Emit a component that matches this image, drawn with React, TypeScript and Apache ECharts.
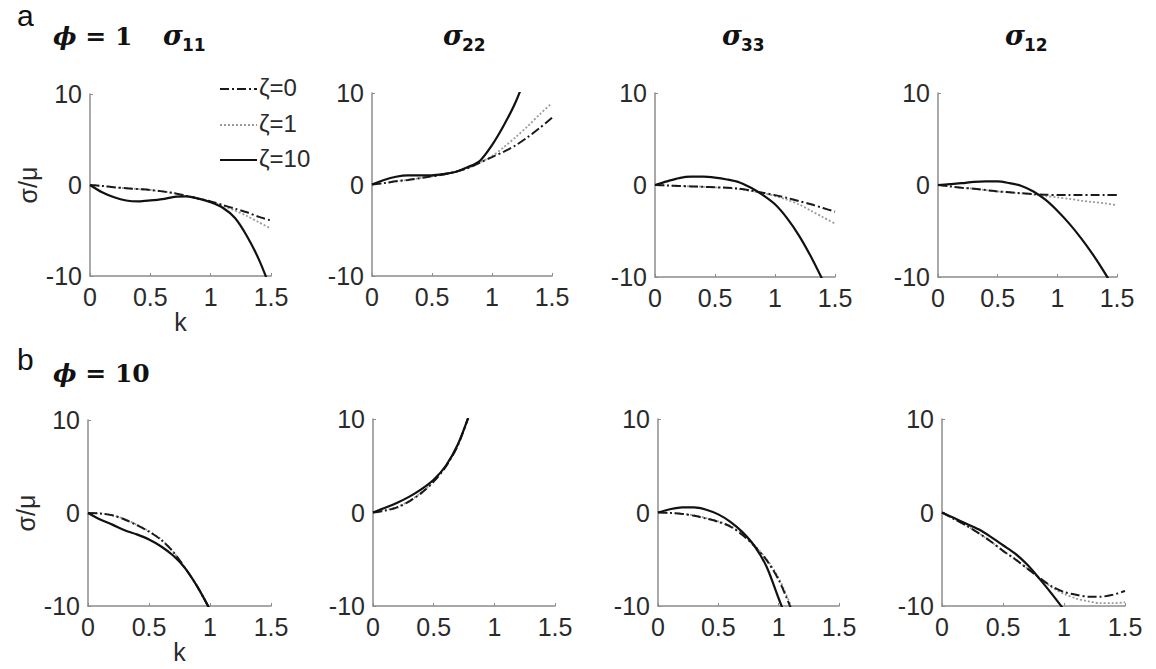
import React, { useEffect, useRef } from "react";
import * as echarts from "echarts";

// ---- data ----
const K = [0, 0.1, 0.2, 0.3, 0.4, 0.5, 0.6, 0.7, 0.8, 0.9, 1.0, 1.1, 1.2, 1.3, 1.4, 1.5];
const X_TICKS = [0, 0.5, 1, 1.5];
const Y_TICKS = [-10, 0, 10];
const SERIES_NAMES = ["ζ=0", "ζ=1", "ζ=10"];
const COMPONENTS = ["11", "22", "33", "12"];
const PHI_VALUES = ["1", "10"];
const ROW_LETTERS = ["a", "b"];

// phi = 1
const S11_PHI1_Z0 = [0, -0.1, -0.25, -0.35, -0.45, -0.55, -0.7, -0.9, -1.2, -1.5, -1.8, -2.2, -2.6, -3.0, -3.5, -3.9];
const S11_PHI1_Z1 = [0, -0.1, -0.25, -0.35, -0.45, -0.55, -0.7, -0.9, -1.2, -1.5, -1.85, -2.3, -2.8, -3.4, -4.1, -4.8];
const S11_PHI1_Z10 = [0, -0.8, -1.35, -1.7, -1.8, -1.7, -1.55, -1.3, -1.25, -1.5, -1.9, -2.5, -3.6, -5.6, -8.2, -11.5];

const S22_PHI1_Z0 = [0, 0.15, 0.35, 0.5, 0.7, 0.9, 1.1, 1.4, 1.8, 2.4, 3.0, 3.6, 4.3, 5.2, 6.2, 7.3];
const S22_PHI1_Z1 = [0, 0.15, 0.35, 0.5, 0.7, 0.9, 1.1, 1.4, 1.8, 2.4, 3.1, 4.1, 5.2, 6.4, 7.7, 8.9];
const S22_PHI1_Z10 = [0, 0.5, 0.85, 1.0, 1.0, 1.0, 1.15, 1.4, 1.9, 2.6, 4.3, 6.5, 9.1, 12.5];

const S33_PHI1_Z0 = [0, -0.05, -0.1, -0.15, -0.2, -0.25, -0.3, -0.4, -0.6, -0.85, -1.1, -1.4, -1.75, -2.1, -2.5, -2.9];
const S33_PHI1_Z1 = [0, -0.05, -0.1, -0.15, -0.2, -0.25, -0.3, -0.45, -0.65, -0.9, -1.2, -1.6, -2.1, -2.8, -3.5, -4.2];
const S33_PHI1_Z10 = [0, 0.4, 0.75, 0.9, 0.9, 0.8, 0.6, 0.3, -0.3, -1.1, -2.1, -3.6, -5.5, -7.8, -10.4];

const S12_PHI1_Z0 = [0, -0.15, -0.3, -0.4, -0.55, -0.7, -0.8, -0.9, -1.0, -1.05, -1.1, -1.1, -1.1, -1.1, -1.1, -1.1];
const S12_PHI1_Z1 = [0, -0.15, -0.3, -0.4, -0.55, -0.7, -0.8, -0.9, -1.05, -1.2, -1.35, -1.5, -1.7, -1.85, -2.0, -2.2];
const S12_PHI1_Z10 = [0, 0.1, 0.2, 0.35, 0.4, 0.4, 0.2, -0.1, -0.7, -1.6, -2.8, -4.2, -5.8, -7.6, -9.6, -11.8];

// phi = 10
const S11_PHI10_Z0 = [0, -0.05, -0.25, -0.7, -1.3, -2.0, -2.9, -4.2, -6.0, -8.0, -10.4];
const S11_PHI10_Z1 = [0, -0.05, -0.25, -0.65, -1.25, -1.95, -2.85, -4.2, -6.0, -8.0, -10.4];
const S11_PHI10_Z10 = [0, -0.7, -1.25, -1.85, -2.3, -2.85, -3.6, -4.6, -6.0, -8.0, -10.4];

const S22_PHI10_Z0 = [0, 0.2, 0.55, 1.2, 2.1, 3.3, 4.9, 7.2, 10.7];
const S22_PHI10_Z1 = [0, 0.25, 0.6, 1.25, 2.15, 3.35, 4.95, 7.25, 10.7];
const S22_PHI10_Z10 = [0, 0.5, 1.05, 1.7, 2.5, 3.5, 5.0, 7.3, 10.7];

const S33_PHI10_Z0 = [0, -0.05, -0.15, -0.35, -0.65, -1.0, -1.5, -2.4, -3.6, -5.1, -7.2, -10.2];
const S33_PHI10_Z1 = [0, -0.05, -0.15, -0.3, -0.6, -0.95, -1.45, -2.3, -3.5, -5.0, -7.0, -9.9, -13.0];
const S33_PHI10_Z10 = [0, 0.35, 0.55, 0.55, 0.3, -0.2, -1.0, -2.1, -3.6, -5.8, -9.2, -12.5];

const S12_PHI10_Z0 = [0, -0.7, -1.4, -2.2, -3.1, -4.1, -5.0, -6.0, -7.0, -7.9, -8.5, -8.8, -9.0, -9.0, -8.8, -8.4];
const S12_PHI10_Z1 = [0, -0.7, -1.4, -2.2, -3.1, -4.1, -5.0, -6.0, -7.0, -8.0, -8.7, -9.2, -9.5, -9.7, -9.7, -9.6];
const S12_PHI10_Z10 = [0, -0.6, -1.2, -1.8, -2.6, -3.5, -4.4, -5.6, -7.1, -8.7, -10.4];

const PANELS = [
  [S11_PHI1_Z0, S11_PHI1_Z1, S11_PHI1_Z10],
  [S22_PHI1_Z0, S22_PHI1_Z1, S22_PHI1_Z10],
  [S33_PHI1_Z0, S33_PHI1_Z1, S33_PHI1_Z10],
  [S12_PHI1_Z0, S12_PHI1_Z1, S12_PHI1_Z10],
  [S11_PHI10_Z0, S11_PHI10_Z1, S11_PHI10_Z10],
  [S22_PHI10_Z0, S22_PHI10_Z1, S22_PHI10_Z10],
  [S33_PHI10_Z0, S33_PHI10_Z1, S33_PHI10_Z10],
  [S12_PHI10_Z0, S12_PHI10_Z1, S12_PHI10_Z10],
];

// ---- layout ----
const GRID_RECTS = [
  { left: 90, top: 94, width: 181, height: 182 },
  { left: 372, top: 93, width: 180, height: 183 },
  { left: 655, top: 93, width: 180, height: 184 },
  { left: 938, top: 93, width: 179, height: 184 },
  { left: 88, top: 420, width: 183, height: 186 },
  { left: 373, top: 419, width: 182, height: 187 },
  { left: 658, top: 419, width: 181, height: 187 },
  { left: 942, top: 419, width: 183, height: 187 },
];
const SIGMA_X = [163, 443, 722, 1005];
const LEGEND_Y = [89, 125, 160];

const LINE_STYLES = [
  { color: "#1a1a1a", width: 2, type: [9, 3, 2, 3] },
  { color: "#9a9a9a", width: 1.8, type: [2, 2] },
  { color: "#111111", width: 2.2, type: "solid" },
];

const SANS = "Liberation Sans, Arial, sans-serif";

export default function App() {
  const ref = useRef<HTMLDivElement>(null);

  useEffect(() => {
    document.body.style.margin = "0";
    if (!ref.current) return;
    const chart = echarts.init(ref.current, undefined, { renderer: "svg" });

    const grid = GRID_RECTS.map((r) => ({ ...r, containLabel: false }));
    const axisLabel = { color: "#2a2a2a", fontSize: 25, fontFamily: SANS, margin: 8 };
    const axisLine = { show: true, onZero: false, lineStyle: { color: "#8c8c8c", width: 1.5 } };
    const axisTick = { show: true, inside: true, length: 3, lineStyle: { color: "#8c8c8c" } };

    const xAxis = GRID_RECTS.map((_, i) => ({
      type: "value",
      gridIndex: i,
      min: X_TICKS[0],
      max: X_TICKS[X_TICKS.length - 1],
      interval: X_TICKS[1] - X_TICKS[0],
      axisLine,
      axisTick,
      splitLine: { show: false },
      axisLabel: { ...axisLabel, showMinLabel: true, showMaxLabel: true },
      name: i % 4 === 0 ? "k" : "",
      nameLocation: "middle",
      nameGap: 30,
      nameTextStyle: { color: "#2a2a2a", fontSize: 25, fontFamily: SANS },
    }));
    const yAxis = GRID_RECTS.map((_, i) => ({
      type: "value",
      gridIndex: i,
      min: Y_TICKS[0],
      max: Y_TICKS[Y_TICKS.length - 1],
      interval: Y_TICKS[1] - Y_TICKS[0],
      axisLine,
      axisTick,
      splitLine: { show: false },
      axisLabel: { ...axisLabel, showMinLabel: true, showMaxLabel: true },
      name: i % 4 === 0 ? "σ/μ" : "",
      nameLocation: "middle",
      nameRotate: 90,
      nameGap: 50,
      nameTextStyle: { color: "#2a2a2a", fontSize: 25, fontFamily: SANS },
    }));

    const series: any[] = [];
    const drawOrder = [1, 0, 2];
    PANELS.forEach((panel, i) => {
      drawOrder.forEach((s) => {
        const vals = panel[s];
        series.push({
          type: "line",
          name: SERIES_NAMES[s],
          xAxisIndex: i,
          yAxisIndex: i,
          data: vals.map((v, j) => [K[j], v]),
          showSymbol: false,
          symbol: "none",
          smooth: 0.3,
          clip: true,
          lineStyle: LINE_STYLES[s],
          itemStyle: { color: LINE_STYLES[s].color },
          z: s === 2 ? 3 : 2,
        });
      });
    });

    const texts: any[] = [];
    ROW_LETTERS.forEach((t, r) => {
      texts.push({
        type: "text",
        left: 17,
        top: r === 0 ? 0 : 344,
        style: { text: t, font: `30px ${SANS}`, fill: "#111" },
      });
    });
    PHI_VALUES.forEach((v, r) => {
      texts.push({
        type: "text",
        left: 53,
        top: r === 0 ? 24 : 361,
        style: {
          text: `{p|ϕ}{e| = ${v}}`,
          fill: "#111",
          rich: {
            p: { fontFamily: "DejaVu Serif", fontStyle: "italic", fontWeight: "bold", fontSize: 25, fill: "#111" },
            e: { fontFamily: "DejaVu Serif", fontWeight: "bold", fontSize: 25, fill: "#111" },
          },
        },
      });
    });
    COMPONENTS.forEach((c, i) => {
      texts.push({
        type: "text",
        left: SIGMA_X[i],
        top: 22,
        style: { text: "σ", font: "italic bold 27px 'DejaVu Serif', serif", fill: "#111" },
      });
      texts.push({
        type: "text",
        left: SIGMA_X[i] + 19,
        top: 36,
        style: { text: c, font: "bold 17px 'DejaVu Sans', sans-serif", fill: "#111" },
      });
    });
    // legend (drawn in panel a, σ11)
    SERIES_NAMES.forEach((n, s) => {
      const st = LINE_STYLES[s];
      texts.push({
        type: "line",
        shape: { x1: 220, y1: LEGEND_Y[s], x2: 257, y2: LEGEND_Y[s] },
        style: {
          stroke: st.color,
          lineWidth: st.width,
          lineDash: Array.isArray(st.type) ? st.type : null,
        },
      });
      texts.push({
        type: "text",
        left: 259,
        top: LEGEND_Y[s] - 14,
        style: { text: n, font: `24px ${SANS}`, fill: "#2a2a2a" },
      });
    });

    chart.setOption({
      animation: false,
      backgroundColor: "#ffffff",
      grid,
      xAxis,
      yAxis,
      series,
      graphic: texts,
    });

    return () => chart.dispose();
  }, []);

  return <div ref={ref} style={{ width: 1156, height: 669 }} />;
}
